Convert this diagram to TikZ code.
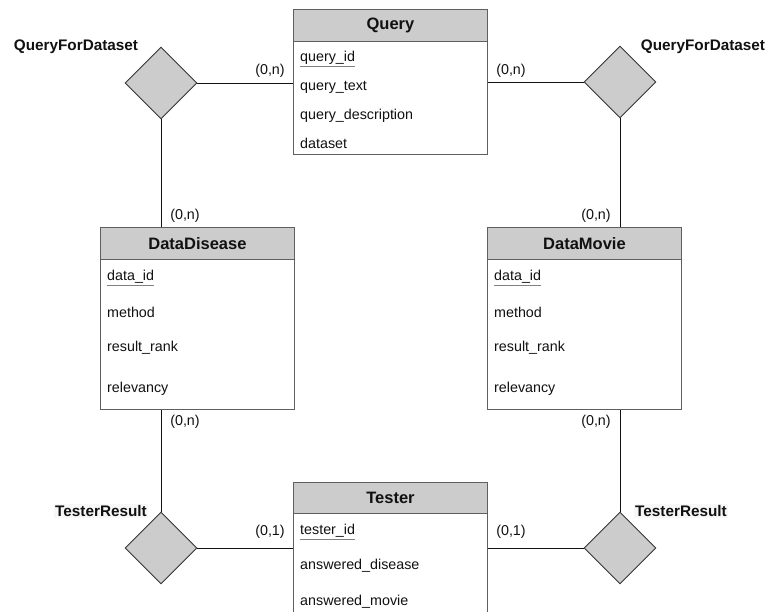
\documentclass[tikz,border=0pt]{standalone}
\usepackage{fontspec}
\setmainfont{Liberation Sans}
\usetikzlibrary{shapes.geometric}
\definecolor{boxgray}{HTML}{CCCCCC}
\definecolor{edgegray}{HTML}{5F5F5F}
\definecolor{inkc}{HTML}{111111}
\newcommand\keyattr[1]{{\color{gray}\underline{\color{inkc}#1}}}
\tikzset{
  ent/.style={draw=edgegray, line width=0.9pt, fill=white, anchor=north west, inner sep=0pt},
  hdr/.style={draw=edgegray, line width=0.9pt, fill=boxgray, anchor=north west, inner sep=0pt,
     font=\fontsize{16.5}{18}\selectfont\bfseries, text=inkc},
  attr/.style={anchor=west, inner sep=0pt, font=\fontsize{14.3}{16}\selectfont, text=inkc},
  rel/.style={diamond, draw=inkc!85, line width=0.9pt, fill=boxgray, minimum width=72pt, minimum height=72pt, inner sep=0pt},
  rellabel/.style={inner sep=1pt, font=\fontsize{15.3}{17}\selectfont\bfseries, text=inkc},
  card/.style={inner sep=0pt, font=\fontsize{14.3}{16}\selectfont, text=inkc},
  conn/.style={draw=inkc, line width=0.9pt}
}
\begin{document}
\begin{tikzpicture}[x=1pt,y=-1pt]
\clip (0,0) rectangle (769,612);
\fill[white] (0,0) rectangle (769,612);

% Query
\node[ent, minimum width=194pt, minimum height=145pt] (query) at (293,9) {};
\node[hdr, minimum width=194pt, minimum height=32pt] (queryh) at (293,9) {Query};
\node[attr] (q1) at (300,59) {\keyattr{query\_id}};
\node[attr] (q2) at (300,87) {query\_text};
\node[attr] (q3) at (300,116) {query\_description};
\node[attr] (q4) at (300,143) {dataset};

% DataDisease
\node[ent, minimum width=194pt, minimum height=182pt] (dis) at (100,227) {};
\node[hdr, minimum width=194pt, minimum height=32pt] (dish) at (100,227) {DataDisease};
\node[attr] (d1) at (107,278) {\keyattr{data\_id}};
\node[attr] (d2) at (107,312) {method};
\node[attr] (d3) at (107,348) {result\_rank};
\node[attr] (d4) at (107,389) {relevancy};

% DataMovie
\node[ent, minimum width=194pt, minimum height=182pt] (mov) at (487,227) {};
\node[hdr, minimum width=194pt, minimum height=32pt] (movh) at (487,227) {DataMovie};
\node[attr] (m1) at (494,278) {\keyattr{data\_id}};
\node[attr] (m2) at (494,312) {method};
\node[attr] (m3) at (494,348) {result\_rank};
\node[attr] (m4) at (494,389) {relevancy};

% Tester
\node[ent, minimum width=194pt, minimum height=150pt] (tes) at (293,482) {};
\node[hdr, minimum width=194pt, minimum height=31pt] (tesh) at (293,482) {Tester};
\node[attr] (t1) at (300,532) {\keyattr{tester\_id}};
\node[attr] (t2) at (300,566) {answered\_disease};
\node[attr] (t3) at (300,602) {answered\_movie};

% relationships
\node[rel] (qfdL) at (161,83) {};
\node[rel] (qfdR) at (620,82) {};
\node[rel] (trL) at (161,548) {};
\node[rel] (trR) at (620,548) {};

\node[rellabel] (qfdLl) at (76,47) {QueryForDataset};
\node[rellabel] (qfdRl) at (703,47) {QueryForDataset};
\node[rellabel, fill=gray!6] (trLl) at (101,511) {TesterResult};
\node[rellabel, fill=gray!6] (trRl) at (681,511) {TesterResult};

% connectors
\draw[conn] (qfdL.east) -- (qfdL.east -| query.west);
\draw[conn] (qfdL.south) -- (qfdL.south |- dis.north);
\draw[conn] (qfdR.west) -- (qfdR.west -| query.east);
\draw[conn] (qfdR.south) -- (qfdR.south |- mov.north);
\draw[conn] (trL.north) -- (trL.north |- dis.south);
\draw[conn] (trL.east) -- (trL.east -| tes.west);
\draw[conn] (trR.north) -- (trR.north |- mov.south);
\draw[conn] (trR.west) -- (trR.west -| tes.east);

% cardinalities
\node[card] (c1) at (270,71) {(0,n)};
\node[card] (c2) at (511,71) {(0,n)};
\node[card] (c3) at (185,216) {(0,n)};
\node[card] (c4) at (596,216) {(0,n)};
\node[card] (c5) at (185,422) {(0,n)};
\node[card] (c6) at (596,422) {(0,n)};
\node[card] (c7) at (270,532) {(0,1)};
\node[card] (c8) at (511,532) {(0,1)};
\end{tikzpicture}
\end{document}
